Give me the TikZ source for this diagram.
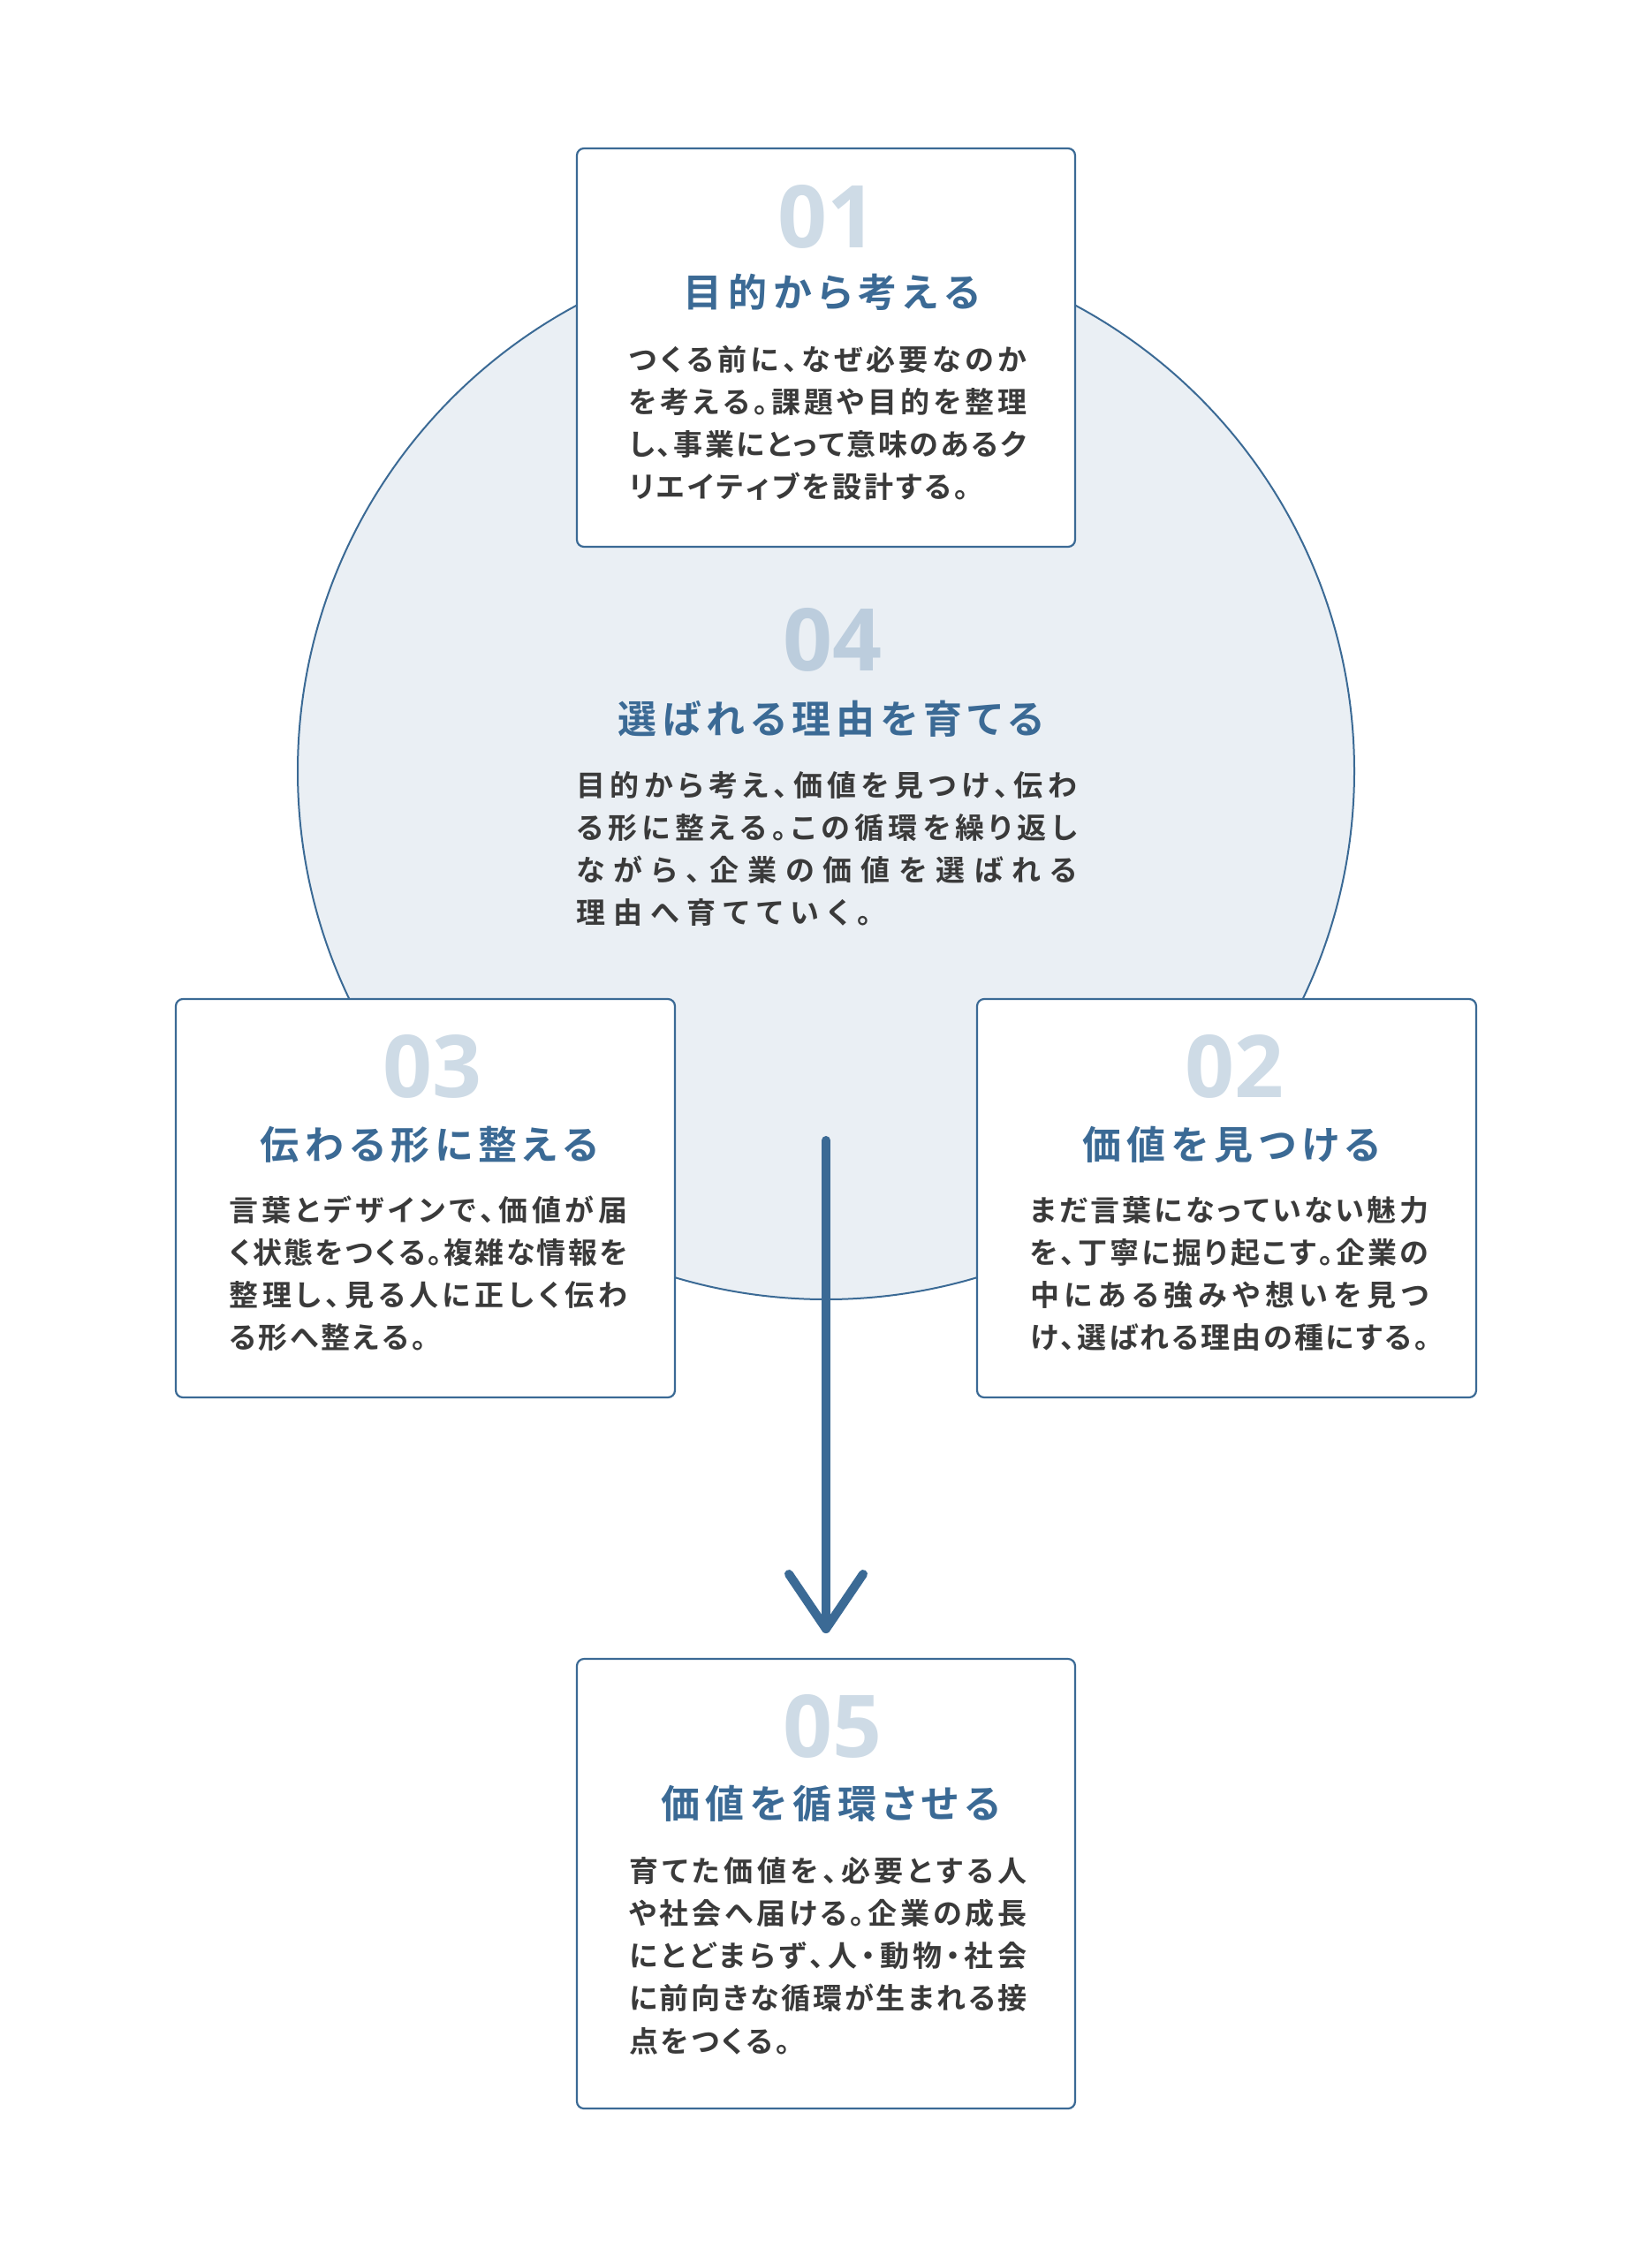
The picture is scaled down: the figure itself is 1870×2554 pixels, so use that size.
\documentclass[tikz,border=0pt]{standalone}
\usepackage{fontspec}
\usetikzlibrary{calc}
\newfontfamily\jpm{Noto Sans CJK JP Bold}[RawFeature=+palt]
\newfontfamily\numf{Open Sans}
\definecolor{mainblue}{HTML}{3B6A95}
\definecolor{numcol}{HTML}{CEDBE6}
\definecolor{numcolB}{HTML}{BCCDDD}
\definecolor{circfill}{HTML}{EAEFF4}
\definecolor{bodycol}{HTML}{3A3A3A}
\def\spcsep{\hfil}
\def\spc#1{\spcA#1\relax}
\def\spcA#1{#1\spcB}
\def\spcB#1{\ifx#1\relax\else\spcsep#1\expandafter\spcB\fi}
\newcommand\jl[2]{\hbox to #1pt{\spc{#2}}}
\newcommand\nl[2]{\hbox{\def\spcsep{\hskip #1pt}\spc{#2}}}
\newcommand\bodyblock[1]{\vtop{\jpm\fontsize{33}{48.3}\selectfont\baselineskip=48.3pt\lineskiplimit=-100pt #1}}
\tikzset{
  stepbox/.style={draw=mainblue, fill=white, line width=2.2pt, rounded corners=8pt, inner sep=0pt},
  numtxt/.style={anchor=base, inner sep=0pt, text=numcol, font=\numf\bfseries\fontsize{98}{98}\selectfont},
  titletxt/.style={anchor=base, inner sep=0pt, text=mainblue, font=\jpm\fontsize{44}{44}\selectfont},
  bodytxt/.style={anchor=base west, inner sep=0pt, text=bodycol},
  arrowline/.style={draw=mainblue, line width=10pt, line cap=round, line join=round}
}
\begin{document}
\begin{tikzpicture}[x=1pt, y=-1pt]
\useasboundingbox[fill=white] (0,0) rectangle (1870,2554);
% circle
\node[circle, draw=mainblue, fill=circfill, line width=2pt, minimum size=1196pt, inner sep=0pt] (cyc) at (935,873) {};
% boxes
\node[stepbox, minimum width=564pt, minimum height=451pt] (b1) at (935,393.5) {};
\node[stepbox, minimum width=565pt, minimum height=451pt] (b3) at (481.5,1356.5) {};
\node[stepbox, minimum width=565pt, minimum height=451pt] (b2) at (1388.5,1356.5) {};
\node[stepbox, minimum width=564pt, minimum height=509pt] (b5) at (935,2132.5) {};
% step 01
\node[numtxt] (n1) at (936,280) {01};
\node[titletxt] (h1) at (941.5,347) {\jl{336}{目的から考える}};
\node[bodytxt] (t1) at (712,419) {\bodyblock{%
\jl{450}{つくる前に、なぜ必要なのか}
\jl{450}{を考える。課題や目的を整理}
\jl{450}{し、事業にとって意味のあるク}
\nl{3}{リエイティブを設計する。}}};
% step 04
\node[numtxt, text=numcolB] (n4) at (942,759) {04};
\node[titletxt] (h4) at (940,830) {\jl{482}{選ばれる理由を育てる}};
\node[bodytxt] (t4) at (652,901) {\bodyblock{%
\jl{567}{目的から考え、価値を見つけ、伝わ}
\jl{567}{る形に整える。この循環を繰り返し}
\jl{567}{ながら、企業の価値を選ばれる}
\nl{9}{理由へ育てていく。}}};
% step 03
\node[numtxt] (n3) at (489,1242) {03};
\node[titletxt] (h3) at (486,1312) {\jl{383}{伝わる形に整える}};
\node[bodytxt] (t3) at (259,1382) {\bodyblock{%
\jl{451}{言葉とデザインで、価値が届}
\jl{451}{く状態をつくる。複雑な情報を}
\jl{451}{整理し、見る人に正しく伝わ}
\nl{3}{る形へ整える。}}};
% step 02
\node[numtxt] (n2) at (1397,1242) {02};
\node[titletxt] (h2) at (1394,1312) {\jl{337}{価値を見つける}};
\node[bodytxt] (t2) at (1166,1382) {\bodyblock{%
\jl{451}{まだ言葉になっていない魅力}
\jl{451}{を、丁寧に掘り起こす。企業の}
\jl{451}{中にある強みや想いを見つ}
\jl{451}{け、選ばれる理由の種にする。}}};
% step 05
\node[numtxt] (n5) at (942,1989) {05};
\node[titletxt] (h5) at (940,2058) {\jl{384}{価値を循環させる}};
\node[bodytxt] (t5) at (712,2130) {\bodyblock{%
\jl{450}{育てた価値を、必要とする人}
\jl{450}{や社会へ届ける。企業の成長}
\jl{450}{にとどまらず、人・動物・社会}
\jl{450}{に前向きな循環が生まれる接}
\nl{3}{点をつくる。}}};
% arrow
\coordinate (as) at (935,1291);
\coordinate (ae) at (935,1844);
\draw[arrowline] (as) -- (ae);
\draw[arrowline] ($(ae)+(-42,-62)$) -- (ae) -- ($(ae)+(42,-62)$);
\end{tikzpicture}
\end{document}
